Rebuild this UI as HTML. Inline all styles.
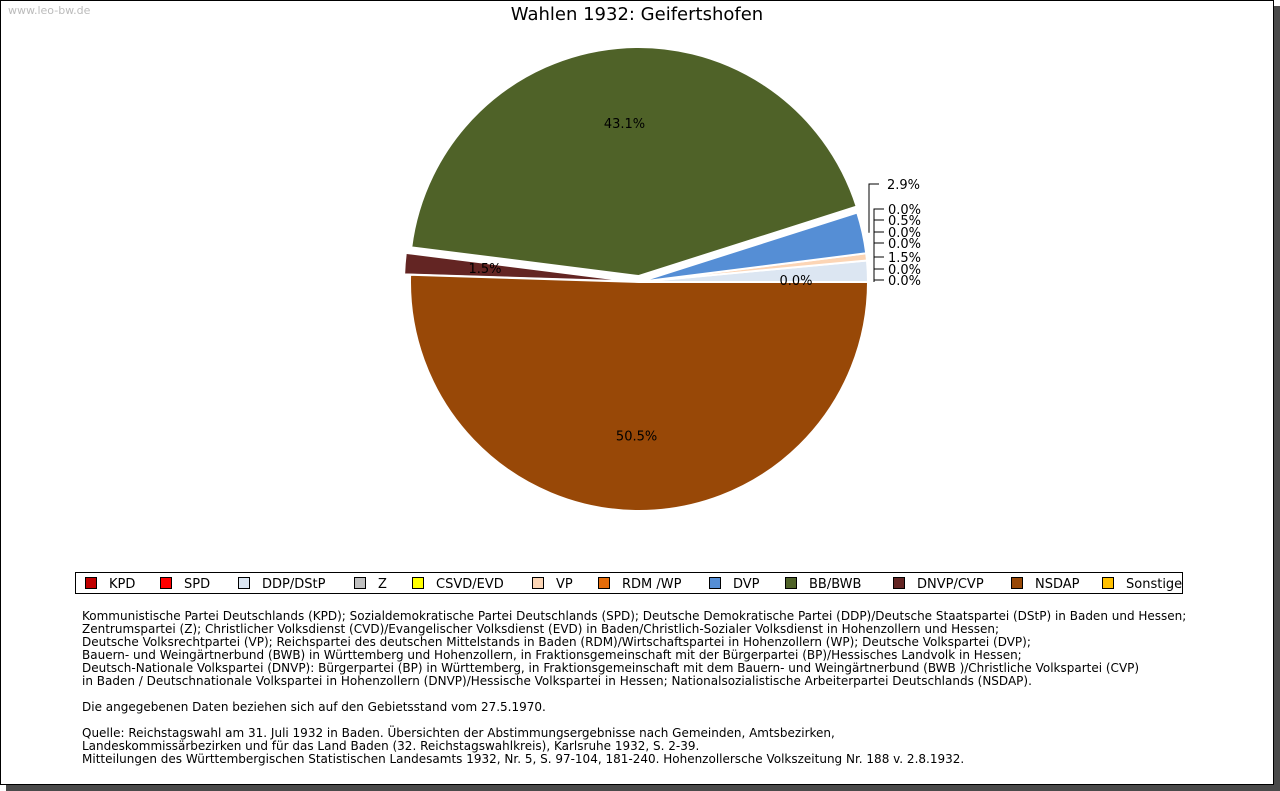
<!DOCTYPE html>
<html><head><meta charset="utf-8"><style>
body{margin:0;width:1280px;height:791px;background:#fff;font-family:"DejaVu Sans","Liberation Sans",sans-serif;overflow:hidden;position:relative}
#shadow{position:absolute;left:6px;top:6px;width:1274px;height:785px;background:#4a4a4a}
#frame{position:absolute;left:0;top:0;width:1272px;height:783px;background:#fff;border:1px solid #000}
#src{position:absolute;left:8px;top:4px;font-size:11px;color:#bbb}
#title{position:absolute;left:0;width:1274px;top:4px;text-align:center;font-size:18px;color:#000}
#legend{position:absolute;left:75px;top:572px;width:1106px;height:20px;border:1px solid #000}
.li{position:absolute;top:4px;font-size:13px;color:#000;white-space:nowrap}
.li i{display:inline-block;width:10px;height:10px;border:1px solid #000;margin-right:12px;vertical-align:-1px}
#notes{position:absolute;left:82px;top:610px;font-size:12px;line-height:13px;color:#000;white-space:pre}
</style></head><body>
<div id="shadow"></div>
<div id="frame"></div>
<div id="src">www.leo-bw.de</div>
<div id="title">Wahlen 1932: Geifertshofen</div>
<svg id="pie" width="1280" height="600" style="position:absolute;left:0;top:0"></svg>
<div id="legend"></div>
<div id="notes">Kommunistische Partei Deutschlands (KPD); Sozialdemokratische Partei Deutschlands (SPD); Deutsche Demokratische Partei (DDP)/Deutsche Staatspartei (DStP) in Baden und Hessen;
Zentrumspartei (Z); Christlicher Volksdienst (CVD)/Evangelischer Volksdienst (EVD) in Baden/Christlich-Sozialer Volksdienst in Hohenzollern und Hessen;
Deutsche Volksrechtpartei (VP); Reichspartei des deutschen Mittelstands in Baden (RDM)/Wirtschaftspartei in Hohenzollern (WP); Deutsche Volkspartei (DVP);
Bauern- und Weingärtnerbund (BWB) in Württemberg und Hohenzollern, in Fraktionsgemeinschaft mit der Bürgerpartei (BP)/Hessisches Landvolk in Hessen;
Deutsch-Nationale Volkspartei (DNVP): Bürgerpartei (BP) in Württemberg, in Fraktionsgemeinschaft mit dem Bauern- und Weingärtnerbund (BWB )/Christliche Volkspartei (CVP)
in Baden / Deutschnationale Volkspartei in Hohenzollern (DNVP)/Hessische Volkspartei in Hessen; Nationalsozialistische Arbeiterpartei Deutschlands (NSDAP).

Die angegebenen Daten beziehen sich auf den Gebietsstand vom 27.5.1970.

Quelle: Reichstagswahl am 31. Juli 1932 in Baden. Übersichten der Abstimmungsergebnisse nach Gemeinden, Amtsbezirken,
Landeskommissärbezirken und für das Land Baden (32. Reichstagswahlkreis), Karlsruhe 1932, S. 2-39.
Mitteilungen des Württembergischen Statistischen Landesamts 1932, Nr. 5, S. 97-104, 181-240. Hohenzollersche Volkszeitung Nr. 188 v. 2.8.1932.</div>
<script>
const parties=["KPD","SPD","DDP/DStP","Z","CSVD/EVD","VP","RDM /WP","DVP","BB/BWB","DNVP/CVP","NSDAP","Sonstige"];
const values=[0.0,0.0,1.5,0.0,0.0,0.5,0.0,2.9,43.1,1.5,50.5,0.0];
const colors=["#c00000","#ff0000","#dce6f2","#bfbfbf","#ffff00","#fcd5b5","#e46c0a","#558ed5","#4f6228","#632523","#984807","#ffc000"];
const legendX=[84,159,237,353,411,531,597,708,784,892,1010,1101];
const explode=[0,0,0,0,0,0,0,0,6,6,0,0];
const NS="http://www.w3.org/2000/svg";
const svg=document.getElementById('pie');
const cx=639,cy=282,r=229;
const total=values.reduce((a,b)=>a+b,0);
let cum=0;
const smallLabelY=[280,269,257,243,232,220,209,184];
let si=0;
values.forEach((v,i)=>{
  const a0=cum/total*2*Math.PI; cum+=v; const a1=cum/total*2*Math.PI;
  const am=(a0+a1)/2;
  const ox=cx+explode[i]*Math.cos(am), oy=cy-explode[i]*Math.sin(am);
  if(v>0){
    const p=document.createElementNS(NS,'path');
    const large=(a1-a0)>Math.PI?1:0;
    p.setAttribute('d',`M${ox},${oy} L${ox+r*Math.cos(a0)},${oy-r*Math.sin(a0)} A${r},${r} 0 ${large} 0 ${ox+r*Math.cos(a1)},${oy-r*Math.sin(a1)} Z`);
    p.setAttribute('fill',colors[i]);p.setAttribute('stroke','#fff');p.setAttribute('stroke-width','2');
    
    
    svg.appendChild(p);
  }
  const t=document.createElementNS(NS,'text');
  t.setAttribute('font-size','13');t.setAttribute('font-family','DejaVu Sans, Liberation Sans, sans-serif');
  const txt=v.toFixed(1)+'%';
  if(v>=5){
    const lx=ox+0.67*r*Math.cos(am), ly=oy-0.67*r*Math.sin(am);
    t.setAttribute('x',lx);t.setAttribute('y',ly+5);t.setAttribute('text-anchor','middle');
  } else if(i===9){
    t.setAttribute('x',485);t.setAttribute('y',273);t.setAttribute('text-anchor','middle');
  } else if(i===11){
    t.setAttribute('x',796);t.setAttribute('y',285);t.setAttribute('text-anchor','middle');
  } else {
    const ly=smallLabelY[si++];
    const isBig=(i===7);
    const tx=isBig?887:888;
    t.setAttribute('x',tx);t.setAttribute('y',ly+5);
    const l=document.createElementNS(NS,'path');
    const ey=cy-r*Math.sin(am);
    const vx=isBig?869:874;
    l.setAttribute('d',`M${vx+10},${ly} H${vx} V${ey}`);
    l.setAttribute('stroke','#000');l.setAttribute('fill','none');l.setAttribute('stroke-width','1');
    
    
    svg.appendChild(l);
  }
  t.textContent=txt;
  
  
  svg.appendChild(t);
});
const leg=document.getElementById('legend');
parties.forEach((p,i)=>{
  const d=document.createElement('div');d.className='li';d.style.left=(legendX[i]-75)+'px';
  d.innerHTML=`<i style="background:${colors[i]}"></i>${p}`;
  
  
  leg.appendChild(d);
});
</script>
</body></html>
